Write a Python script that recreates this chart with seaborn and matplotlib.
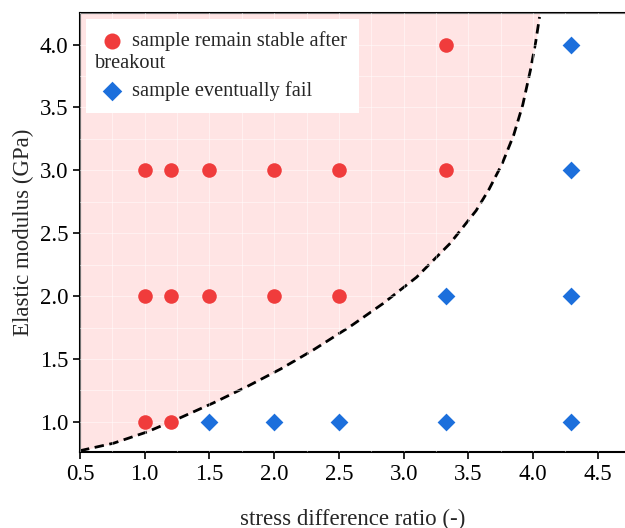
import numpy as np
import pandas as pd
import matplotlib
matplotlib.use("Agg")
import matplotlib.pyplot as plt
from matplotlib.ticker import MultipleLocator, FormatStrFormatter
import seaborn as sns

# ---- data ----
stable_ratio = [1.0, 1.2, 1.0, 1.2, 1.5, 2.0, 2.5, 1.0, 1.2, 1.5, 2.0, 2.5, 3.33, 3.33]
stable_modulus = [1.0, 1.0, 2.0, 2.0, 2.0, 2.0, 2.0, 3.0, 3.0, 3.0, 3.0, 3.0, 3.0, 4.0]
fail_ratio = [1.5, 2.0, 2.5, 3.33, 4.29, 3.33, 4.29, 4.29, 4.29]
fail_modulus = [1.0, 1.0, 1.0, 1.0, 1.0, 2.0, 2.0, 3.0, 4.0]

# boundary curve
curve_x = [0.50, 0.76, 1.02, 1.27, 1.53, 1.79, 2.05, 2.30, 2.59, 2.84, 3.10,
           3.36, 3.56, 3.66, 3.76, 3.85, 3.92, 3.98, 4.02, 4.05]
curve_y = [0.77, 0.83, 0.92, 1.03, 1.15, 1.28, 1.42, 1.57, 1.76, 1.94, 2.15,
           2.42, 2.68, 2.85, 3.05, 3.28, 3.52, 3.80, 4.02, 4.22]

df = pd.concat([
    pd.DataFrame({'ratio': stable_ratio, 'modulus': stable_modulus, 'outcome': 'stable'}),
    pd.DataFrame({'ratio': fail_ratio, 'modulus': fail_modulus, 'outcome': 'fail'}),
])

sns.set_theme(style="ticks")
plt.rcParams['font.family'] = ['Liberation Serif', 'DejaVu Serif']

fig = plt.figure(figsize=(6.25, 5.28), dpi=100)
ax = fig.add_axes([0.128, 0.144, 0.872, 0.831])

YMIN, YMAX = 0.76, 4.25
ax.fill_between(curve_x, curve_y, YMAX, color='#FFE4E4', lw=0, zorder=0)
ax.plot(curve_x, curve_y, color='black', lw=2.0, ls=(0, (3.4, 2.0)), zorder=2)

sns.scatterplot(data=df[df.outcome == 'stable'], x='ratio', y='modulus', ax=ax,
                color='#F03C3C', marker='o', s=110, linewidth=0, zorder=3,
                label='sample remain stable after')
sns.scatterplot(data=df[df.outcome == 'fail'], x='ratio', y='modulus', ax=ax,
                color='#1C6FDC', marker='D', s=82, linewidth=0, zorder=3,
                label='sample eventually fail')

ax.set_xlim(0.5, 4.71)
ax.set_ylim(YMIN, YMAX)
ax.xaxis.set_major_locator(MultipleLocator(0.5))
ax.yaxis.set_major_locator(MultipleLocator(0.5))
ax.xaxis.set_minor_locator(MultipleLocator(0.25))
ax.yaxis.set_minor_locator(MultipleLocator(0.25))
ax.xaxis.set_major_formatter(FormatStrFormatter('%.1f'))
ax.yaxis.set_major_formatter(FormatStrFormatter('%.1f'))
ax.grid(which='both', color='white', lw=0.8, alpha=0.45, zorder=1)
ax.set_axisbelow(False)
ax.tick_params(which='major', direction='out', length=5, width=1.2, labelsize=16.5,
               colors='black')
ax.tick_params(which='minor', length=0)

for side in ['left', 'bottom', 'top']:
    ax.spines[side].set_linewidth(1.5)
    ax.spines[side].set_color('black')
ax.spines['right'].set_visible(False)

ax.set_xlabel('stress difference ratio (-)', fontsize=16.5, labelpad=17)
ax.set_ylabel('Elastic modulus (GPa)', fontsize=16.5, labelpad=4)

leg = ax.legend(loc='upper left', bbox_to_anchor=(0.011, 0.986), borderaxespad=0,
                frameon=True, fancybox=False, framealpha=1, edgecolor='white',
                fontsize=14.7, handletextpad=0.35, labelspacing=1.45,
                borderpad=0.6, handlelength=1.3, markerscale=1.1)
leg.get_frame().set_linewidth(0)
ax.text(0.0275, 0.875, 'breakout', transform=ax.transAxes, fontsize=14.7,
        va='baseline', ha='left', zorder=10)

fig.savefig('out.png', dpi=100)
